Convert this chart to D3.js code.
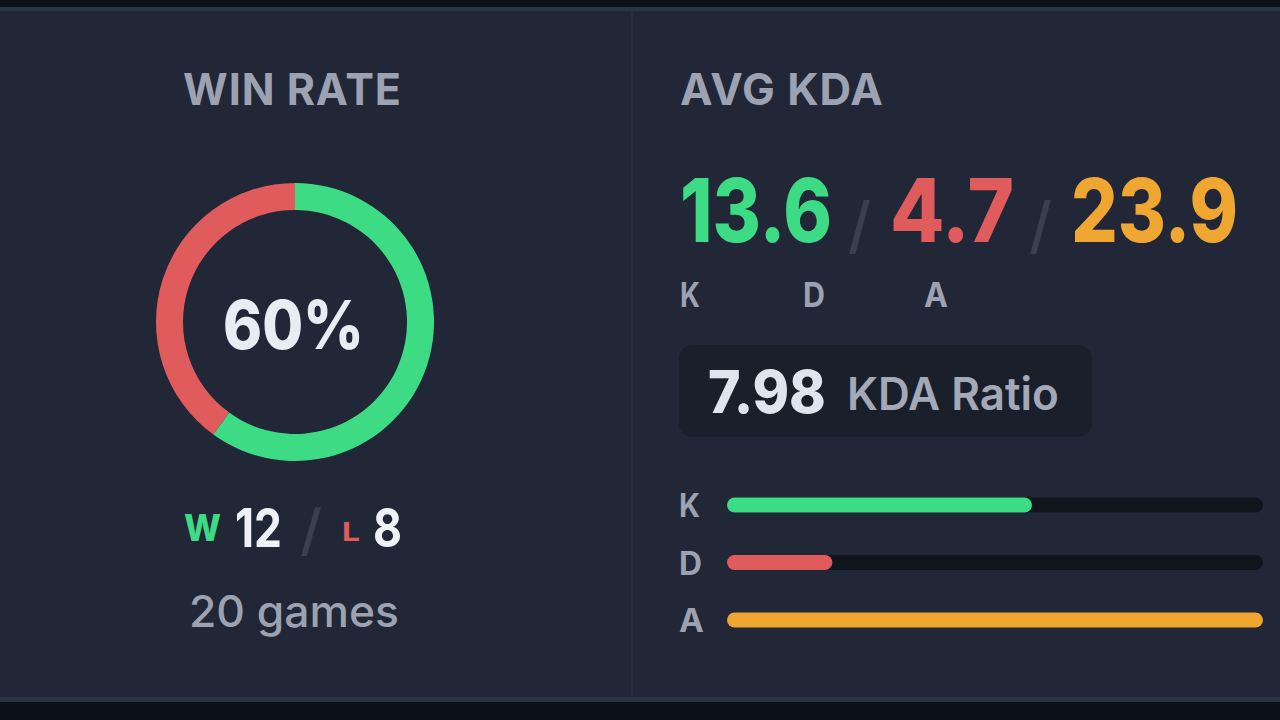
<!DOCTYPE html>
<html><head><meta charset="utf-8">
<script src="https://cdn.jsdelivr.net/npm/d3@7"></script>
<style>
html,body{margin:0;padding:0;background:#0c1018;}
svg{display:block;}
text{font-family:Inter,"Noto Sans",sans-serif;}
</style></head>
<body>
<svg id="chart" width="1280" height="720"></svg>
<script>
// ---- data ----
const outcomeLabels = ["W", "L"];
const outcomeCounts = [12, 8];
const kdaLabels = ["K", "D", "A"];
const kdaValues = [13.6, 4.7, 23.9];
const titles = ["WIN RATE", "AVG KDA"];

const colors = {K: "#3ddc84", D: "#e05c5c", A: "#f0a732", W: "#3ddc84", L: "#e05c5c"};

const svg = d3.select("#chart");
const W = 1280, H = 720;

// background / frame
svg.append("rect").attr("width", W).attr("height", H).attr("fill", "#0c1018");
svg.append("rect").attr("x", 0).attr("y", 7).attr("width", W).attr("height", 695).attr("fill", "#2a3544");
svg.append("rect").attr("x", 0).attr("y", 11).attr("width", W).attr("height", 686).attr("fill", "#212737");
svg.append("rect").attr("x", 631).attr("y", 11).attr("width", 2).attr("height", 686).attr("fill", "#262d3e");

// text fitted horizontally to a target ink width
function fit(g, x, y, s, size, weight, fill, width, spacing) {
  const gg = g.append("g").attr("transform", `translate(${x},${y})`);
  const t = gg.append("text").text(s)
    .attr("font-size", size).attr("font-weight", weight).attr("fill", fill);
  if (spacing) t.attr("letter-spacing", spacing);
  const bb = t.node().getBBox();
  const sx = width ? width / bb.width : 1;
  gg.attr("transform", `translate(${x - bb.x * sx},${y}) scale(${sx},1)`);
  return t;
}

// ---- left: win rate ----
const left = svg.append("g");
fit(left, 183, 105, titles[0], 44, 700, "#9ca2b1", 219, 1);

const total = d3.sum(outcomeCounts);
const winRate = outcomeCounts[0] / total;
const pie = d3.pie().sort(null).value(d => d)(outcomeCounts);
const arc = d3.arc().innerRadius(112).outerRadius(139);
const donut = left.append("g").attr("transform", "translate(295,322)");
donut.selectAll("path").data(pie).join("path")
  .attr("d", arc)
  .attr("fill", (d, i) => colors[outcomeLabels[i]]);

fit(left, 223, 349, d3.format(".0%")(winRate), 68, 800, "#e8ecf3", 141);

// W 12 / L 8
fit(left, 184, 541, outcomeLabels[0], 37, 800, colors.W, 37);
fit(left, 235, 547, String(outcomeCounts[0]), 54, 700, "#eef1f6", 47);
fit(left, 300, 550, "/", 56, 500, "#3a414e", 22);
fit(left, 342, 541, outcomeLabels[1], 26, 700, colors.L, 18);
fit(left, 373, 547, String(outcomeCounts[1]), 54, 700, "#eef1f6", 29);

fit(left, 189, 627, total + " games", 44, 500, "#9ca2b1", 210);

// ---- right: avg kda ----
const right = svg.append("g");
fit(right, 680, 105, titles[1], 44, 700, "#9ca2b1", 204, 1);

const numX = [680, 890, 1071];
const numW = [152, 124, 167];
kdaValues.forEach((v, i) => {
  fit(right, numX[i], 242, d3.format(".1f")(v), 88, 800, colors[kdaLabels[i]], numW[i]);
});
fit(right, 848, 247, "/", 62, 500, "#3a414e", 23);
fit(right, 1029, 247, "/", 62, 500, "#3a414e", 23);

const lblX = [680, 803, 924];
kdaLabels.forEach((l, i) => {
  fit(right, lblX[i], 307, l, 34, 700, "#9ca2b1", [20, 22, 24][i]);
});

// ratio box
const ratio = (kdaValues[0] + kdaValues[2]) / kdaValues[1];
right.append("rect").attr("x", 679).attr("y", 345).attr("width", 413).attr("height", 92)
  .attr("rx", 14).attr("fill", "#1a1f2c");
fit(right, 708, 413, d3.format(".2f")(ratio), 59, 800, "#dfe5ef", 118);
fit(right, 847, 410, "KDA Ratio", 45, 600, "#a3a9b6", 212);

// bars
const x = d3.scaleLinear().domain([0, d3.max(kdaValues)]).range([727, 1263]);
const y = d3.scalePoint().domain(kdaLabels).range([505, 620]);
const barH = 15;
const bars = right.append("g");
bars.selectAll("rect.track").data(kdaLabels).join("rect").attr("class", "track")
  .attr("x", x(0)).attr("y", d => y(d) - barH / 2)
  .attr("width", x.range()[1] - x(0)).attr("height", barH)
  .attr("rx", barH / 2).attr("fill", "#10141d");
bars.selectAll("rect.val").data(kdaValues).join("rect").attr("class", "val")
  .attr("x", x(0)).attr("y", (d, i) => y(kdaLabels[i]) - barH / 2)
  .attr("width", d => x(d) - x(0)).attr("height", barH)
  .attr("rx", barH / 2).attr("fill", (d, i) => colors[kdaLabels[i]]);
const barLabelW = [21, 23, 25];
kdaLabels.forEach((l, i) => {
  fit(bars, 679, y(l) + 12, l, 32, 700, "#9ca2b1", barLabelW[i]);
});
</script>
</body></html>
